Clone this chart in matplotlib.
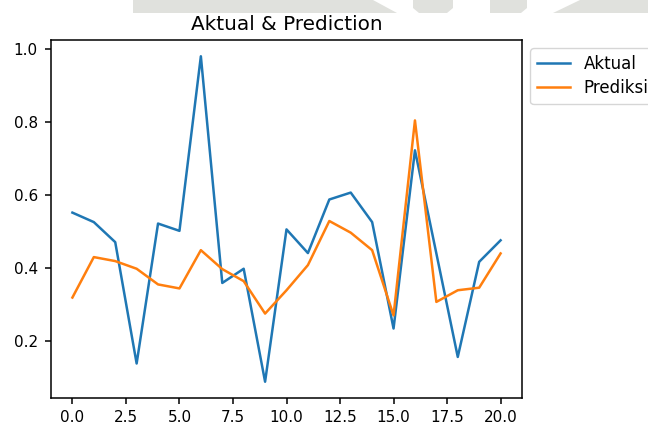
import matplotlib
matplotlib.use("Agg")
import matplotlib.pyplot as plt
from matplotlib.patches import Polygon

x = list(range(21))
aktual = [0.552, 0.526, 0.471, 0.138, 0.522, 0.502, 0.981, 0.359, 0.398, 0.088,
          0.506, 0.441, 0.588, 0.607, 0.526, 0.234, 0.723, 0.44, 0.156, 0.417, 0.476]
prediksi = [0.319, 0.430, 0.419, 0.398, 0.355, 0.344, 0.449, 0.397, 0.364, 0.275,
            0.339, 0.408, 0.529, 0.497, 0.449, 0.270, 0.805, 0.307, 0.339, 0.346, 0.440]

W, H = 648, 423
DPI = 100
fig = plt.figure(figsize=(W / DPI, H / DPI), dpi=DPI)

# faint watermark band at the top
wm = "#e0e1dd"
def px(pts):
    return [(a / W, 1 - b / H) for a, b in pts]
for pts in [
    [(133, 0), (373, 0), (397, 13), (133, 13)],
    [(413, 0), (453, 0), (453, 8), (447, 13), (419, 13), (413, 8)],
    [(490, 0), (527, 0), (527, 8), (521, 13), (490, 13)],
    [(580, 0), (648, 0), (648, 13), (553, 13)],
]:
    fig.patches.append(Polygon(px(pts), closed=True, transform=fig.transFigure,
                               facecolor=wm, edgecolor="none", zorder=0))

ax = fig.add_axes([51 / W, 1 - 398 / H, (522 - 51) / W, (398 - 40) / H])
ax.plot(x, aktual, color="#1f77b4", label="Aktual", linewidth=1.8)
ax.plot(x, prediksi, color="#ff7f0e", label="Prediksi", linewidth=1.8)
ax.set_title("Aktual & Prediction", fontsize=14.4, pad=7)
ax.tick_params(axis="both", labelsize=11, length=4.5, width=1.1)
ax.tick_params(axis="y", pad=5)
ax.tick_params(axis="x", pad=3.8)
for s in ax.spines.values():
    s.set_linewidth(1.1)
leg = ax.legend(loc="upper left", bbox_to_anchor=(1.0, 1.0), borderaxespad=0.5,
                fontsize=12, handlelength=2.0, labelspacing=0.38)
for l in leg.get_lines():
    l.set_linewidth(1.8)

fig.savefig("out.png", dpi=DPI)
